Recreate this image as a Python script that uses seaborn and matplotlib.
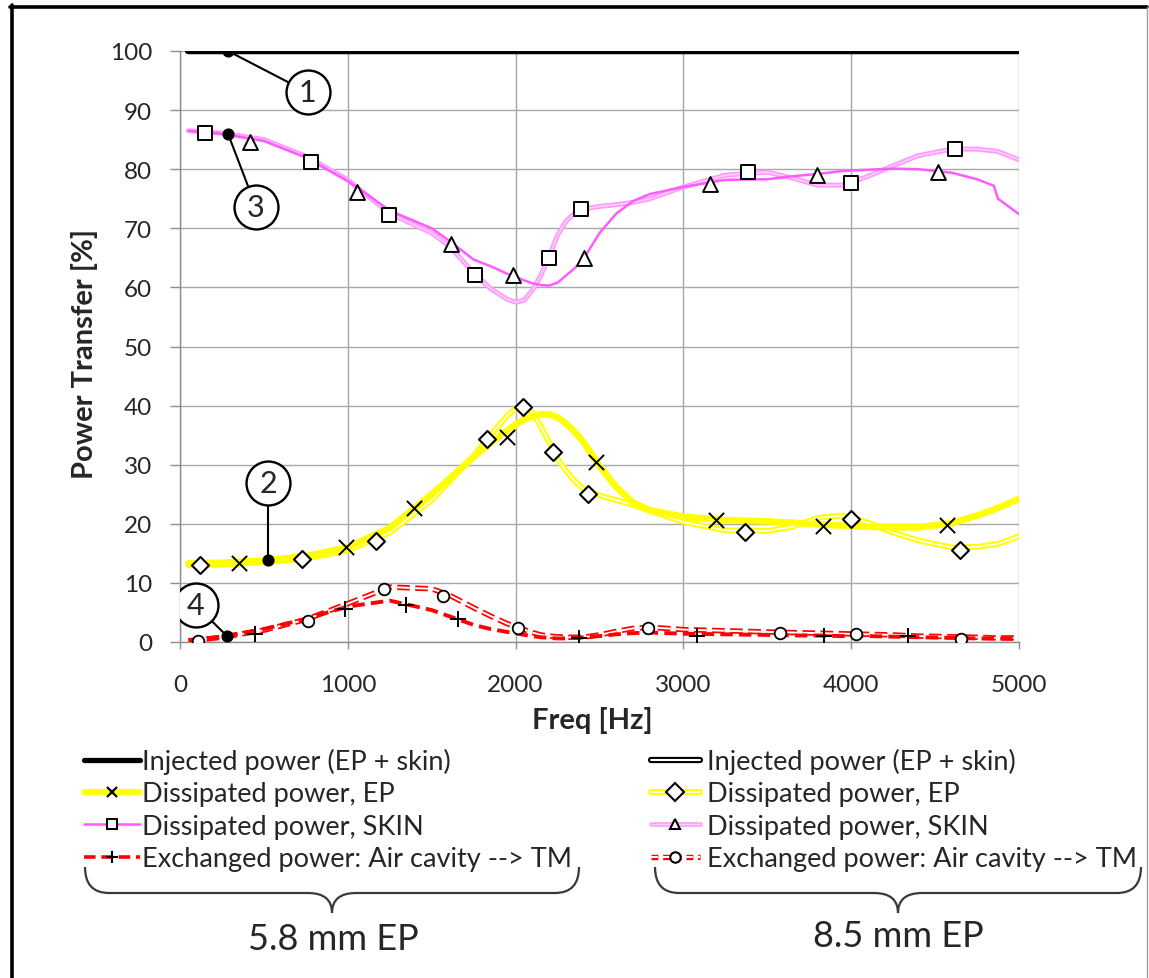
import numpy as np
import pandas as pd
import matplotlib
matplotlib.use("Agg")
import matplotlib.pyplot as plt
import seaborn as sns
from matplotlib.lines import Line2D
from matplotlib.legend_handler import HandlerTuple
from matplotlib.path import Path
from matplotlib.patches import PathPatch
import matplotlib.patheffects as pe

# ---------------- data ----------------
FREQ = [50, 250, 500, 750, 1000, 1250, 1500, 1600, 1750, 1850, 1950, 2000, 2050, 2100,
        2150, 2200, 2250, 2300, 2350, 2400, 2500, 2600, 2700, 2800, 3000, 3250, 3500,
        3650, 3800, 3950, 4100, 4250, 4400, 4600, 4750, 4850, 4875, 5000]

INJ_FREQ = [50, 5000]
INJ_58 = [100, 100]
INJ_85 = [100, 100]

EP_58 = [13.3, 13.4, 13.8, 14.5, 16.0, 19.3, 25.0, 27.5, 31.3, 33.7, 35.8, 36.8, 37.6, 38.2,
         38.5, 38.5, 38.0, 37.0, 35.6, 34.0, 29.8, 26.2, 23.6, 22.3, 21.2, 20.6, 20.4,
         20.2, 19.9, 19.7, 19.5, 19.4, 19.4, 20.1, 21.4, 22.4, 22.7, 24.2]
EP_85 = [13.0, 13.1, 13.5, 14.1, 15.5, 18.5, 24.0, 27.0, 31.5, 35.0, 38.3, 39.5, 39.8, 38.8,
         36.5, 33.8, 31.0, 29.0, 27.3, 26.0, 24.8, 24.0, 23.2, 22.2, 20.3, 18.9, 18.8,
         19.5, 21.0, 21.4, 20.2, 18.5, 17.2, 16.0, 16.1, 16.5, 16.6, 17.9]
SKIN_58 = [86.5, 86.0, 84.8, 82.0, 78.0, 73.0, 70.0, 68.0, 64.7, 63.6, 62.3, 61.8, 61.2, 60.7,
           60.4, 60.3, 60.8, 62.0, 63.2, 64.6, 69.2, 72.5, 74.6, 75.8, 77.0, 78.2, 78.3,
           78.8, 79.2, 79.7, 79.9, 80.1, 80.0, 79.4, 78.3, 77.2, 75.0, 72.4]
SKIN_85 = [86.5, 86.1, 85.0, 82.2, 78.2, 72.5, 69.2, 67.1, 62.5, 59.8, 58.0, 57.5, 57.8, 59.5,
           62.0, 65.3, 68.8, 71.2, 72.5, 73.3, 73.7, 74.0, 74.4, 75.0, 77.0, 79.0, 79.5,
           78.5, 77.3, 77.3, 78.8, 80.6, 82.3, 83.4, 83.4, 83.1, 83.0, 81.6]
EX_58 = [0.2, 0.9, 2.2, 3.9, 6.0, 7.0, 5.4, 4.4, 2.9, 2.2, 1.7, 1.5, 1.2, 1.0,
         0.8, 0.7, 0.6, 0.6, 0.7, 0.8, 1.0, 1.3, 1.5, 1.6, 1.4, 1.3, 1.2,
         1.1, 1.1, 1.0, 1.0, 0.9, 0.8, 0.7, 0.6, 0.6, 0.6, 0.5]
EX_85 = [0.2, 0.8, 2.0, 3.8, 6.5, 9.3, 9.0, 8.0, 5.8, 4.4, 3.1, 2.6, 2.1, 1.6,
         1.2, 1.0, 0.9, 0.8, 0.8, 0.8, 1.2, 1.8, 2.3, 2.5, 2.1, 1.9, 1.7,
         1.6, 1.5, 1.4, 1.3, 1.2, 1.0, 0.9, 0.8, 0.7, 0.7, 0.7]

# marker series
MK_EP58_F = [352, 990, 1396, 1951, 2482, 3192, 3831, 4570]
MK_EP58_V = [13.3, 16.1, 22.7, 34.7, 30.5, 20.6, 19.6, 19.8]
MK_EP85_F = [120, 728, 1170, 1832, 2047, 2220, 2430, 3365, 3998, 4648]
MK_EP85_V = [13.0, 14.0, 17.1, 34.3, 39.8, 32.1, 25.0, 18.6, 20.8, 15.6]
MK_SK58_F = [150, 780, 1247, 1760, 2200, 2390, 3383, 3997, 4618]
MK_SK58_V = [86.1, 81.2, 72.2, 62.1, 65.0, 73.3, 79.5, 77.7, 83.4]
MK_SK85_F = [418, 1056, 1617, 1987, 2410, 3156, 3795, 4517]
MK_SK85_V = [84.6, 76.1, 67.3, 62.1, 65.0, 77.5, 79.0, 79.5]
MK_EX58_F = [447, 985, 1348, 1659, 2375, 3079, 3837, 4338]
MK_EX58_V = [1.35, 5.6, 6.3, 3.9, 0.7, 1.0, 1.0, 1.0]
MK_EX85_F = [107, 764, 1217, 1569, 2017, 2792, 3574, 4027, 4654]
MK_EX85_V = [0.2, 3.6, 9.0, 7.8, 2.4, 2.4, 1.5, 1.4, 0.5]

LABELS = ["Injected power (EP + skin)", "Dissipated power, EP",
          "Dissipated power, SKIN", "Exchanged power: Air cavity --> TM"]
GROUPS = ["5.8 mm EP", "8.5 mm EP"]

# callouts: (label, point freq, point value, circle freq, circle value)
CALLOUTS = [("1", 286, 100.0, 762, 93.0),
            ("3", 286, 86.0, 453, 73.6),
            ("2", 525, 13.9, 525, 26.9),
            ("4", 280, 1.0, 95, 6.2)]

# ---------------- style ----------------
sns.set_style("white")
plt.rcParams["font.family"] = ["Lato", "DejaVu Sans"]

W, H = 1149, 979
fig = plt.figure(figsize=(W / 100, H / 100), dpi=100)
ax = fig.add_axes([180 / W, 1 - 643 / H, (1019 - 180) / W, (643 - 52) / H])

YEL = "#FFFF00"
MAG = "#FF5CFF"
LPINK = "#FF9CFF"
RED = "#FF0000"
EX58_LS = (0, (3.2, 1.6))
EX85_LS = (0, (6.5, 2.8))

def dbl(color, w):
    return [pe.Stroke(linewidth=w, foreground=color), pe.Normal()]

df = pd.DataFrame({"freq": FREQ, "ep58": EP_58, "ep85": EP_85, "sk58": SKIN_58,
                   "sk85": SKIN_85, "ex58": EX_58, "ex85": EX_85})
dinj = pd.DataFrame({"freq": INJ_FREQ, "inj58": INJ_58, "inj85": INJ_85})

kw = dict(ax=ax, estimator=None, sort=False, legend=False)
# double lines (8.5 mm)
sns.lineplot(data=dinj, x="freq", y="inj85", color="white", lw=1.5,
             path_effects=dbl("black", 4.5), zorder=3, **kw)
sns.lineplot(data=df, x="freq", y="sk85", color="#FFD0FF", lw=1.1,
             path_effects=dbl(LPINK, 3.6), zorder=3, **kw)
sns.lineplot(data=df, x="freq", y="ep85", color="white", lw=1.2,
             path_effects=dbl(YEL, 4.2), zorder=3, **kw)
sns.lineplot(data=df, x="freq", y="ex85", color="white", lw=1.4, dashes=False,
             linestyle=EX85_LS, path_effects=dbl(RED, 3.9), zorder=3, **kw)
# single lines (5.8 mm)
sns.lineplot(data=df, x="freq", y="sk58", color=MAG, lw=1.8, zorder=4, **kw)
sns.lineplot(data=df, x="freq", y="ep58", color=YEL, lw=4.8, zorder=4, **kw)
sns.lineplot(data=df, x="freq", y="ex58", color=RED, lw=2.8, linestyle=EX58_LS,
             zorder=4, **kw)
sns.lineplot(data=dinj, x="freq", y="inj58", color="black", lw=3.8, zorder=5, **kw)

# markers
def mk(f, v, m, s, lw=1.4, filled=True):
    if filled:
        sns.scatterplot(x=f, y=v, marker=m, s=s, facecolor="white", edgecolor="black",
                        linewidth=lw, ax=ax, zorder=6, legend=False)
    else:
        sns.scatterplot(x=f, y=v, marker=m, s=s, color="black", linewidth=lw, ax=ax,
                        zorder=6, legend=False)

mk(MK_EP58_F, MK_EP58_V, "x", 120, 1.4, False)
mk(MK_EP85_F, MK_EP85_V, "D", 75, 1.5)
mk(MK_SK58_F, MK_SK58_V, "s", 90, 1.4)
mk(MK_SK85_F, MK_SK85_V, "^", 115, 1.4)
mk(MK_EX58_F, MK_EX58_V, "+", 120, 1.4, False)
mk(MK_EX85_F, MK_EX85_V, "o", 70, 1.3)

# callouts
for lab, px, py, cx, cy in CALLOUTS:
    ax.plot([px, cx], [py, cy], color="black", lw=1.5, zorder=7)
    ax.scatter([px], [py], s=60, color="black", zorder=8)
    ax.scatter([cx], [cy], s=1000, facecolor="white", edgecolor="black", linewidth=1.7,
               zorder=8)
    ax.text(cx, cy, lab, ha="center", va="center", fontsize=22, zorder=9)

# axes cosmetics
ax.set_xlim(0, 5000)
ax.set_ylim(0, 100)
ax.set_xticks(range(0, 5001, 1000))
ax.set_yticks(range(0, 101, 10))
ax.grid(True, color="#A8A8A8", lw=1.0)
ax.set_axisbelow(True)
for s in ["top", "right"]:
    ax.spines[s].set_visible(False)
for s in ["left", "bottom"]:
    ax.spines[s].set_color("#8C8C8C")
    ax.spines[s].set_linewidth(1.0)
ax.tick_params(axis="y", length=7, color="#8C8C8C", width=1, pad=13, labelsize=17.5,
               left=True)
ax.tick_params(axis="x", length=5, color="#8C8C8C", width=1, pad=18, labelsize=17.5,
               bottom=True)
ax.set_xlabel("Freq [Hz]", fontsize=21, fontweight="bold")
ax.set_ylabel("Power Transfer [%]", fontsize=21, fontweight="bold")
ax.xaxis.set_label_coords((592 - 180) / 839, (643 - 707) / 591)
ax.yaxis.set_label_coords((98 - 180) / 839, (643 - 354) / 591)

# legends
def h_single(color, lw, ls="-", marker=None):
    line = Line2D([], [], color=color, lw=lw, linestyle=ls)
    if marker is None:
        return line
    return (line, marker)

def h_double(color, inner, w_out, w_in, ls="-", marker=None):
    line = Line2D([], [], color=inner, lw=w_in, linestyle=ls,
                  path_effects=dbl(color, w_out))
    if marker is None:
        return line
    return (line, marker)

def mline(m, ms, filled=True):
    if filled:
        return Line2D([], [], ls="none", marker=m, ms=ms, mfc="white", mec="black", mew=1.5)
    return Line2D([], [], ls="none", marker=m, ms=ms, color="black", mew=1.5)

left_h = [h_single("black", 3.8),
          h_single(YEL, 4.2, marker=mline("x", 7, False)),
          h_single(MAG, 1.8, marker=mline("s", 7.5)),
          h_single(RED, 2.6, ls=EX58_LS, marker=mline("+", 9, False))]
right_h = [h_double("black", "white", 4.5, 1.5),
           h_double(YEL, "white", 4.2, 1.2, marker=mline("D", 9)),
           h_double(LPINK, "#FFD0FF", 3.4, 1.0, marker=mline("^", 7.5)),
           h_double(RED, "white", 3.9, 1.4, ls=(0, (3.5, 2.5)), marker=mline("o", 7.5))]

leg_kw = dict(loc="upper left", frameon=False, fontsize=19.5,
              borderaxespad=0, borderpad=0, labelspacing=0.27,
              handler_map={tuple: HandlerTuple(ndivide=1)})
fig.legend(left_h, LABELS, bbox_to_anchor=(84 / W, 1 - 749 / H), handlelength=2.05,
           handletextpad=0.08, **leg_kw)
fig.legend(right_h, LABELS, bbox_to_anchor=(651 / W, 1 - 749 / H), handlelength=1.8,
           handletextpad=0.28, **leg_kw)

# braces
def brace(x0, x1, ytop, ybar, ytip, r=24):
    xm = (x0 + x1) / 2
    pts = [(x0, ytop), (x0, ybar), (x0 + r, ybar),
           (xm - r, ybar), (xm, ybar), (xm, ytip),
           (xm, ybar), (xm + r, ybar),
           (x1 - r, ybar), (x1, ybar), (x1, ytop)]
    codes = [Path.MOVETO, Path.CURVE3, Path.CURVE3,
             Path.LINETO, Path.CURVE3, Path.CURVE3,
             Path.CURVE3, Path.CURVE3,
             Path.LINETO, Path.CURVE3, Path.CURVE3]
    verts = [(x / W, 1 - y / H) for x, y in pts]
    fig.add_artist(PathPatch(Path(verts, codes), transform=fig.transFigure,
                             fill=False, edgecolor="#3A3A3A", lw=1.6))

brace(85, 579, 868, 894, 914)
brace(655, 1141, 868, 894, 914)
fig.text(333 / W, 1 - 940 / H, GROUPS[0], ha="center", va="center", fontsize=26)
fig.text(898 / W, 1 - 937 / H, GROUPS[1], ha="center", va="center", fontsize=26)

# frame around the figure
fig.add_artist(Line2D([11.5 / W, 11.5 / W], [0, 1 - 6 / H], transform=fig.transFigure,
                      color="black", lw=2.6))
fig.add_artist(Line2D([10 / W, 1147 / W], [1 - 7.5 / H, 1 - 7.5 / H],
                      transform=fig.transFigure, color="black", lw=2.6))
fig.add_artist(Line2D([1147 / W, 1147 / W], [0, 1 - 7.5 / H], transform=fig.transFigure,
                      color="#A0A0A0", lw=1.0))

fig.savefig("out.png", dpi=100)
